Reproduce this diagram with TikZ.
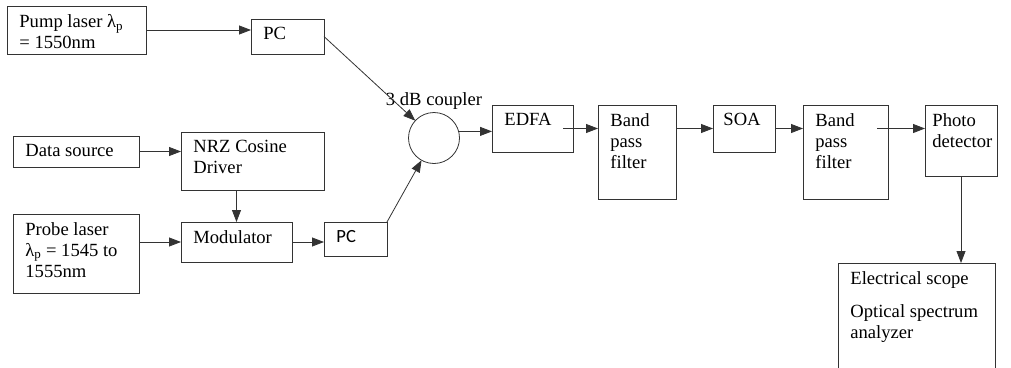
\documentclass[tikz,border=0pt]{standalone}
\usepackage{fontspec}
\setmainfont{Liberation Serif}
\newfontfamily\pcfont{Carlito}
\usetikzlibrary{arrows.meta}

\begin{document}
\begin{tikzpicture}[x=1pt, y=-1pt, line width=0.8pt,
    font=\fontsize{18.6}{21}\selectfont]

    \tikzset{blk/.style={draw=black!80, rectangle, anchor=north west, inner sep=0pt, outer sep=0pt},
             txtat/.style 2 args={label={[anchor=north west, inner sep=0pt, align=left, xshift=#1, yshift=-8pt]north west:#2}},
             txt/.style={txtat={12pt}{#1}},
             lnk/.style={-{Stealth[length=12pt,width=9pt,inset=0pt]}, draw=black!80}}

    \useasboundingbox (0,0) rectangle (1011,367);

    \node[blk, minimum width=139pt, minimum height=48pt, txt={Pump laser λ\textsubscript{p}\\= 1550nm}] (pump) at (7,6) {};
    \node[blk, minimum width=73pt, minimum height=35pt, txt=PC] (pcA) at (251,19) {};
    \node[blk, minimum width=126pt, minimum height=31pt, txt={Data source}] (data) at (13,136) {};
    \node[blk, minimum width=143pt, minimum height=58pt, txt={NRZ Cosine\\Driver}] (nrz) at (181,132) {};
    \node[blk, minimum width=126pt, minimum height=79pt, txt={Probe laser\\λ\textsubscript{p} = 1545 to\\1555nm}] (probe) at (13,214) {};
    \node[blk, minimum width=111pt, minimum height=40pt, txt=Modulator] (mod) at (181,222) {};
    \node[blk, minimum width=63pt, minimum height=34pt, txt={\pcfont PC}] (pcB) at (324,222) {};
    \node[draw=black!80, circle, minimum size=51pt, inner sep=0pt, outer sep=0pt,
          label={[inner sep=0pt, label distance=3pt]above:3 dB coupler}] (cpl) at (434,138) {};
    \node[blk, minimum width=81pt, minimum height=47pt, txt=EDFA] (edfa) at (492,105) {};
    \node[blk, minimum width=78pt, minimum height=94pt, txt={Band\\pass\\filter}] (bpf1) at (598,105) {};
    \node[blk, minimum width=62pt, minimum height=47pt, txtat={10pt}{SOA}] (soa) at (713,105) {};
    \node[blk, minimum width=85pt, minimum height=94pt, txt={Band\\pass\\filter}] (bpf2) at (803,105) {};
    \node[blk, minimum width=72pt, minimum height=71pt, txtat={7pt}{Photo\\detector}] (photo) at (925,105) {};
    \node[blk, minimum width=157pt, minimum height=150pt, txt={Electrical scope\\[12pt]Optical spectrum\\analyzer}] (scope) at (838,263) {};

    \draw[lnk] (pump.east) -- (pump.east -| pcA.west);
    \draw[lnk] (pcA.east) -- (cpl);
    \draw[lnk] (data.east) -- (data.east -| nrz.west);
    \draw[lnk] (mod.north |- nrz.south) -- (mod.north);
    \draw[lnk] (mod.west -| probe.east) -- (mod.west);
    \draw[lnk] (mod.east) -- (mod.east -| pcB.west);
    \draw[lnk] (pcB.north east) -- (cpl);
    \draw[lnk] (cpl.15) -- (cpl.15 -| edfa.west);
    \draw[lnk] ([xshift=-10pt]edfa.east) -- (edfa.east -| bpf1.west);
    \draw[lnk] (soa.west -| bpf1.east) -- (soa.west);
    \draw[lnk] (soa.east) -- (soa.east -| bpf2.west);
    \draw[lnk] ([xshift=-11pt]bpf2.east |- soa.east) -- (soa.east -| photo.west);
    \draw[lnk] (photo.south) -- (photo.south |- scope.north);
\end{tikzpicture}
\end{document}
